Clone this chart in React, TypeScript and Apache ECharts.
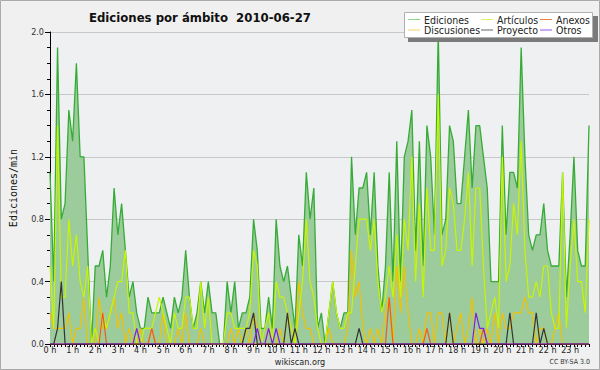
import React, { useEffect, useRef } from "react";
import * as echarts from "echarts";

const hours: string[] = Array.from({ length: 144 }, (_, i) => (i % 6 === 0 ? `${i / 6} h` : ""));

const ediciones = [
  1.1, 0.4, 1.9, 0.8, 0.9, 1.5, 1.3, 1.8, 1.2, 1.2, 0.6, 0.0,
  0.5, 0.5, 0.6, 0.3, 0.5, 1.0, 0.7, 0.9, 0.6, 0.3, 0.4, 0.2,
  0.1, 0.1, 0.3, 0.2, 0.2, 0.2, 0.3, 0.2, 0.1, 0.3, 0.2, 0.3,
  0.6, 0.3, 0.1, 0.2, 0.4, 0.2, 0.4, 0.2, 0.2, 0.0, 0.0, 0.4,
  0.2, 0.4, 0.1, 0.2, 0.2, 0.3, 0.8, 0.6, 0.1, 0.1, 0.3, 0.1,
  0.8, 0.5, 0.4, 0.5, 0.3, 0.1, 0.7, 0.5, 1.1, 0.8, 1.0, 0.1,
  0.2, 0.0, 0.2, 0.4, 0.2, 0.1, 0.2, 0.2, 1.2, 0.7, 1.0, 1.0,
  1.1, 0.7, 1.1, 0.5, 0.2, 0.5, 1.1, 0.4, 1.3, 0.4, 1.2, 1.3,
  1.5, 0.6, 1.3, 0.5, 1.4, 1.2, 0.7, 2.0, 0.7, 0.8, 1.4, 1.3,
  0.9, 0.9, 1.2, 1.5, 1.0, 1.4, 1.4, 1.2, 1.0, 0.4, 0.4, 0.4,
  1.4, 0.7, 1.1, 1.1, 1.0, 1.9, 1.2, 0.7, 0.6, 0.7, 0.7, 0.9,
  0.6, 0.5, 0.5, 0.5, 1.1, 0.3, 0.7, 1.2, 0.6, 0.5, 0.5, 1.4,
];

const articulos = [
  0.5, 0.1, 1.4, 0.3, 0.3, 0.8, 0.5, 0.7, 0.4, 0.3, 0.5, 0.0,
  0.1, 0.0, 0.2, 0.1, 0.2, 0.3, 0.4, 0.4, 0.6, 0.2, 0.2, 0.0,
  0.0, 0.1, 0.1, 0.1, 0.2, 0.3, 0.2, 0.1, 0.0, 0.2, 0.1, 0.1,
  0.3, 0.3, 0.1, 0.1, 0.4, 0.1, 0.3, 0.0, 0.0, 0.0, 0.0, 0.2,
  0.2, 0.1, 0.1, 0.1, 0.1, 0.2, 0.6, 0.5, 0.0, 0.1, 0.2, 0.0,
  0.4, 0.3, 0.3, 0.2, 0.1, 0.0, 0.2, 0.4, 0.8, 0.4, 0.3, 0.1,
  0.0, 0.0, 0.2, 0.4, 0.2, 0.1, 0.1, 0.2, 0.2, 0.5, 0.8, 0.8,
  0.8, 0.6, 0.8, 0.4, 0.2, 0.3, 0.5, 0.3, 0.7, 0.3, 0.8, 0.6,
  1.2, 0.4, 0.9, 0.3, 1.0, 0.6, 0.6, 1.6, 0.5, 0.6, 1.0, 0.9,
  0.6, 0.6, 0.8, 1.1, 0.5, 1.0, 1.0, 0.5, 0.1, 0.2, 0.3, 0.1,
  1.2, 0.4, 0.5, 0.9, 0.7, 1.3, 0.6, 0.3, 0.3, 0.4, 0.3, 0.5,
  0.5, 0.2, 0.1, 0.1, 1.1, 0.1, 0.5, 0.8, 0.4, 0.4, 0.2, 0.8,
];

const discusiones = [
  0.2, 0.1, 0.1, 0.1, 0.1, 0.2, 0.0, 0.1, 0.1, 0.3, 0.0, 0.0,
  0.0, 0.3, 0.1, 0.1, 0.2, 0.3, 0.1, 0.2, 0.0, 0.1, 0.0, 0.0,
  0.1, 0.0, 0.0, 0.1, 0.0, 0.0, 0.2, 0.0, 0.0, 0.0, 0.1, 0.0,
  0.2, 0.0, 0.0, 0.0, 0.1, 0.0, 0.0, 0.0, 0.0, 0.0, 0.0, 0.0,
  0.1, 0.0, 0.1, 0.0, 0.1, 0.0, 0.2, 0.1, 0.0, 0.0, 0.1, 0.0,
  0.0, 0.1, 0.0, 0.2, 0.1, 0.0, 0.4, 0.2, 0.1, 0.1, 0.0, 0.0,
  0.0, 0.0, 0.1, 0.0, 0.0, 0.0, 0.0, 0.1, 0.6, 0.3, 0.4, 0.1,
  0.0, 0.1, 0.0, 0.1, 0.0, 0.2, 0.3, 0.0, 0.5, 0.2, 0.5, 0.2,
  0.0, 0.0, 0.1, 0.0, 0.2, 0.2, 0.0, 0.2, 0.2, 0.0, 0.2, 0.0,
  0.1, 0.2, 0.0, 0.1, 0.3, 0.0, 0.1, 0.0, 0.1, 0.0, 0.2, 0.0,
  0.2, 0.1, 0.1, 0.2, 0.2, 0.2, 0.3, 0.2, 0.2, 0.0, 0.1, 0.1,
  0.0, 0.0, 0.1, 0.2, 0.0, 0.0, 0.0, 0.0, 0.0, 0.0, 0.0, 0.0,
];

const anexos = [
  0, 0, 0, 0, 0, 0, 0, 0, 0, 0, 0, 0,
  0, 0, 0.2, 0, 0, 0, 0, 0, 0, 0, 0, 0,
  0, 0, 0, 0.1, 0, 0, 0, 0, 0, 0, 0, 0,
  0, 0, 0, 0, 0, 0, 0, 0, 0, 0, 0, 0,
  0, 0, 0, 0, 0, 0, 0, 0, 0, 0, 0, 0,
  0, 0, 0, 0, 0, 0, 0, 0, 0, 0, 0, 0,
  0, 0, 0, 0, 0, 0, 0, 0, 0, 0, 0, 0,
  0, 0, 0, 0, 0, 0, 0.3, 0, 0, 0, 0, 0,
  0, 0, 0, 0, 0.1, 0, 0, 0, 0, 0, 0, 0,
  0, 0, 0, 0, 0, 0, 0, 0.1, 0, 0, 0, 0,
  0, 0, 0, 0, 0, 0, 0, 0, 0, 0, 0, 0,
  0, 0, 0, 0, 0, 0, 0, 0, 0, 0, 0, 0,
];

const proyecto = [
  0, 0, 0.1, 0.4, 0, 0, 0, 0, 0, 0, 0, 0,
  0, 0, 0, 0, 0, 0, 0, 0, 0, 0, 0, 0,
  0, 0, 0, 0, 0, 0, 0, 0, 0, 0, 0, 0,
  0, 0, 0, 0, 0, 0, 0, 0, 0, 0, 0, 0,
  0, 0, 0, 0, 0.1, 0.1, 0.2, 0, 0, 0, 0, 0,
  0, 0, 0, 0.2, 0, 0.1, 0, 0, 0, 0, 0, 0,
  0, 0, 0, 0, 0, 0, 0, 0, 0, 0, 0.1, 0,
  0, 0, 0, 0, 0, 0, 0, 0, 0, 0, 0, 0,
  0, 0, 0, 0, 0, 0, 0, 0, 0, 0, 0.2, 0,
  0, 0, 0, 0, 0, 0, 0, 0, 0, 0, 0, 0,
  0, 0, 0.2, 0, 0, 0, 0, 0, 0, 0.2, 0, 0.1,
  0, 0, 0, 0, 0, 0, 0, 0, 0, 0, 0, 0,
];

const otros = [
  0, 0, 0, 0, 0, 0, 0, 0, 0, 0, 0, 0,
  0, 0, 0, 0, 0, 0, 0, 0, 0, 0, 0, 0.1,
  0, 0, 0, 0, 0, 0, 0, 0, 0, 0, 0, 0,
  0, 0, 0, 0, 0, 0, 0, 0, 0, 0, 0, 0,
  0, 0, 0, 0, 0, 0, 0, 0.1, 0, 0, 0.1, 0,
  0.1, 0, 0, 0, 0, 0, 0, 0, 0, 0, 0, 0,
  0, 0, 0, 0, 0, 0, 0, 0, 0, 0, 0, 0,
  0, 0, 0, 0, 0, 0, 0, 0, 0, 0, 0, 0,
  0, 0, 0, 0, 0, 0, 0, 0, 0, 0, 0, 0,
  0, 0, 0, 0, 0, 0.2, 0.1, 0.1, 0, 0, 0, 0,
  0, 0, 0, 0, 0, 0, 0, 0, 0, 0, 0, 0,
  0, 0, 0, 0, 0, 0, 0, 0, 0, 0, 0, 0,
];

const legendNames = ["Ediciones", "Artículos", "Anexos", "Discusiones", "Proyecto", "Otros"];
const legendColors = ["#88d888", "#d6f560", "#f08050", "#f8d060", "#666666", "#9955ee"];

const FONT = "DejaVu Sans Condensed";

export default function App() {
  const ref = useRef<HTMLDivElement>(null);
  useEffect(() => {
    document.body.style.margin = "0";
    const chart = echarts.init(ref.current!, null, { renderer: "svg" });
    const lineSeries = (name: string, data: number[], color: string, z: number, extra: any = {}) => ({
      name,
      type: "line",
      data,
      symbol: "none",
      z,
      lineStyle: { color, width: 1.2 },
      itemStyle: { color },
      ...extra,
    });
    const colX = [424, 497, 556];
    const legendGraphics: any[] = [
      { type: "rect", shape: { x: 408, y: 16, width: 190, height: 26 }, style: { fill: "#7a7a7a" }, z: 10 },
      { type: "rect", shape: { x: 404.5, y: 12.5, width: 188, height: 25 }, style: { fill: "#ffffff", stroke: "#b0b0b0", lineWidth: 1 }, z: 11 },
    ];
    legendNames.forEach((n, k) => {
      const c = k % 3;
      const r = Math.floor(k / 3);
      const x = colX[c];
      const y = 19.5 + r * 10.5;
      legendGraphics.push({
        type: "line",
        shape: { x1: x - 16, y1: y, x2: x - 4, y2: y },
        style: { stroke: legendColors[k], lineWidth: 1 },
        z: 12,
      });
      legendGraphics.push({
        type: "text",
        x,
        y,
        style: { text: n, fill: "#222", font: `10.5px '${FONT}'`, textVerticalAlign: "middle" },
        z: 12,
      });
    });
    chart.setOption({
      animation: false,
      backgroundColor: "#f0f0f0",
      title: {
        text: "Ediciones por ámbito  2010-06-27",
        left: 84,
        top: 6,
        textStyle: { fontFamily: FONT, fontSize: 13, fontWeight: "bold", color: "#111" },
      },
      grid: { left: 46.5, top: 32, width: 542.5, height: 312, show: true, backgroundColor: "#eef0f2", borderWidth: 0 },
      xAxis: {
        type: "category",
        data: hours,
        boundaryGap: false,
        axisLine: { lineStyle: { color: "#000", width: 1 } },
        axisTick: { show: true, interval: 0, length: 3, lineStyle: { color: "#000" } },
        axisLabel: {
          interval: (i: number) => i % 6 === 0,
          fontFamily: FONT,
          fontSize: 9,
          color: "#222",
          margin: 1,
        },
        splitLine: { show: false },
      },
      yAxis: {
        type: "value",
        min: 0,
        max: 2,
        interval: 0.4,
        name: "Ediciones/min",
        nameLocation: "middle",
        nameGap: 32,
        nameTextStyle: { fontFamily: "DejaVu Sans Mono", fontSize: 10, color: "#111" },
        axisLine: { show: true, lineStyle: { color: "#000", width: 1 } },
        axisTick: { show: true, length: 5, lineStyle: { color: "#000" } },
        minorTick: { show: true, splitNumber: 4, length: 3, lineStyle: { color: "#000" } },
        axisLabel: {
          formatter: (v: number) => v.toFixed(1),
          fontFamily: FONT,
          fontSize: 9,
          color: "#333",
          margin: 6,
        },
        splitLine: { show: true, lineStyle: { color: "#c8c8c8", width: 1 } },
      },
      series: [
        lineSeries("Ediciones", ediciones, "#36ac36", 5, {
          areaStyle: { color: "#9ccb9c", opacity: 1 },
          z: 2,
          lineStyle: { color: "#36ac36", width: 1.3 },
        }),
        lineSeries("Discusiones", discusiones, "#f2c200", 3),
        lineSeries("Artículos", articulos, "#c8f500", 4),
        lineSeries("Anexos", anexos, "#f05a20", 5),
        lineSeries("Proyecto", proyecto, "#333333", 5),
        lineSeries("Otros", otros, "#7f1fe0", 5),
      ],
      graphic: [
        ...legendGraphics,
        {
          type: "text",
          left: "center",
          top: 357,
          style: { text: "wikiscan.org", fill: "#222", font: `9px '${FONT}'` },
        },
        {
          type: "text",
          right: 10,
          top: 358,
          style: { text: "CC BY-SA 3.0", fill: "#333", font: `7px '${FONT}'` },
        },
        {
          type: "rect",
          shape: { x: 0.5, y: 0.5, width: 599, height: 369 },
          style: { fill: "none", stroke: "#aaaaaa", lineWidth: 1 },
          silent: true,
        },
      ],
    });
    return () => chart.dispose();
  }, []);
  return <div ref={ref} style={{ width: 600, height: 370 }} />;
}
